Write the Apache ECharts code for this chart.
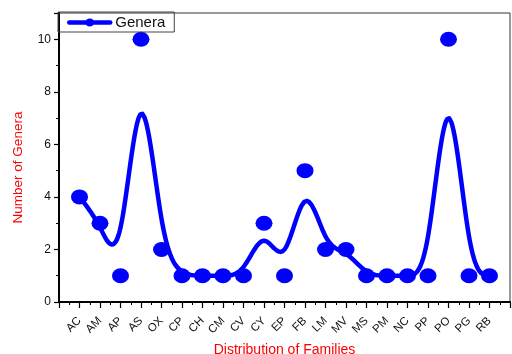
<!DOCTYPE html>
<html>
<head>
<meta charset="utf-8">
<script src="https://cdn.jsdelivr.net/npm/echarts@6/dist/echarts.min.js"></script>
<style>
  html, body { margin: 0; padding: 0; background: #fff; }
  #chart { width: 512px; height: 354px; }
</style>
</head>
<body>
<div id="chart"></div>
<script>
// Families (x axis) and number of genera in each
const families = ['AC','AM','AP','AS','OX','CP','CH','CM','CV','CY','EP','FB','LM','MV','MS','PM','NC','PP','PO','PG','RB'];
const genera   = [4, 3, 1, 10, 2, 1, 1, 1, 1, 3, 1, 5, 2, 2, 1, 1, 1, 1, 10, 1, 1];
const yTicks   = [0, 2, 4, 6, 8, 10];

// Points placed at x = 1..n on a numeric axis
const points = genera.map((v, i) => [i + 1, v]);

// Uniform cubic B-spline with the points as control points;
// reflected phantom points at both ends make the curve start and end on the data.
function bspline(ctrl, stepsPerSpan) {
  const n = ctrl.length;
  const first = [2 * ctrl[0][0] - ctrl[1][0], 2 * ctrl[0][1] - ctrl[1][1]];
  const end = [2 * ctrl[n - 1][0] - ctrl[n - 2][0], 2 * ctrl[n - 1][1] - ctrl[n - 2][1]];
  const P = [first].concat(ctrl, [end]);
  const out = [];
  for (let j = 1; j < P.length - 2; j++) {
    const p0 = P[j - 1], p1 = P[j], p2 = P[j + 1], p3 = P[j + 2];
    const isLast = (j === P.length - 3);
    for (let s = 0; s < stepsPerSpan + (isLast ? 1 : 0); s++) {
      const t = s / stepsPerSpan, t2 = t * t, t3 = t2 * t, u = 1 - t;
      const b0 = u * u * u / 6;
      const b1 = (3 * t3 - 6 * t2 + 4) / 6;
      const b2 = (-3 * t3 + 3 * t2 + 3 * t + 1) / 6;
      const b3 = t3 / 6;
      out.push([
        b0 * p0[0] + b1 * p1[0] + b2 * p2[0] + b3 * p3[0],
        b0 * p0[1] + b1 * p1[1] + b2 * p2[1] + b3 * p3[1]
      ]);
    }
  }
  return out;
}
const curve = bspline(points, 30);

const chart = echarts.init(document.getElementById('chart'), null, { renderer: 'canvas' });
const BLUE = '#0000FF';
const FONT = 'Liberation Sans, Arial, sans-serif';
chart.setOption({
  animation: false,
  backgroundColor: '#fff',
  grid: {
    left: 59, right: 2, top: 13, bottom: 52,
    outerBoundsMode: 'none', containLabel: false,
    show: true, borderColor: '#333', borderWidth: 1, backgroundColor: 'transparent'
  },
  legend: {
    data: ['Genera'],
    left: 58, top: 12,
    orient: 'horizontal',
    borderColor: '#444', borderWidth: 1,
    padding: [3, 9, 2, 9],
    itemWidth: 41, itemHeight: 10,
    itemGap: 4,
    lineStyle: { width: 4.5 },
    textStyle: { fontFamily: FONT, fontSize: 15, color: '#111' }
  },
  xAxis: {
    type: 'value', min: 0, max: families.length + 1, interval: 1,
    name: 'Distribution of Families', nameLocation: 'middle', nameGap: 38,
    nameTextStyle: { color: '#FF0000', fontFamily: FONT, fontSize: 14 },
    axisLine: { show: true, lineStyle: { color: '#000', width: 2 } },
    axisTick: { show: true, length: 6, inside: false, lineStyle: { color: '#000', width: 1.2 } },
    minorTick: { show: true, splitNumber: 2, length: 3, lineStyle: { color: '#000', width: 1 } },
    splitLine: { show: false },
    axisLabel: {
      rotate: 45, margin: 17,
      fontFamily: FONT, fontSize: 11.5, color: '#111',
      formatter: v => (v >= 1 && v <= families.length) ? families[v - 1] : ''
    }
  },
  yAxis: {
    type: 'value', min: 0, max: 11, interval: 2,
    name: 'Number of Genera', nameLocation: 'middle', nameGap: 34, nameRotate: 90,
    nameTextStyle: { color: '#FF0000', fontFamily: FONT, fontSize: 13.5, padding: [0, 20, 0, 0] },
    axisLine: { show: true, lineStyle: { color: '#000', width: 2 } },
    axisTick: { show: true, length: 5, lineStyle: { color: '#000', width: 1.2 } },
    minorTick: { show: true, splitNumber: 2, length: 3, lineStyle: { color: '#000', width: 1 } },
    splitLine: { show: false },
    axisLabel: {
      margin: 8, fontFamily: FONT, fontSize: 12, color: '#111',
      formatter: v => yTicks.indexOf(v) >= 0 ? String(v) : ''
    }
  },
  series: [
    {
      name: 'Genera', type: 'line', data: curve,
      showSymbol: false, symbol: 'circle', symbolSize: 10,
      itemStyle: { color: BLUE },
      lineStyle: { color: BLUE, width: 4.5, cap: 'round', join: 'round' },
      z: 2
    },
    {
      name: 'Genera', type: 'scatter', data: points,
      symbol: 'circle', symbolSize: [17, 15],
      itemStyle: { color: BLUE, opacity: 1 },
      z: 3
    }
  ]
});
</script>
</body>
</html>
